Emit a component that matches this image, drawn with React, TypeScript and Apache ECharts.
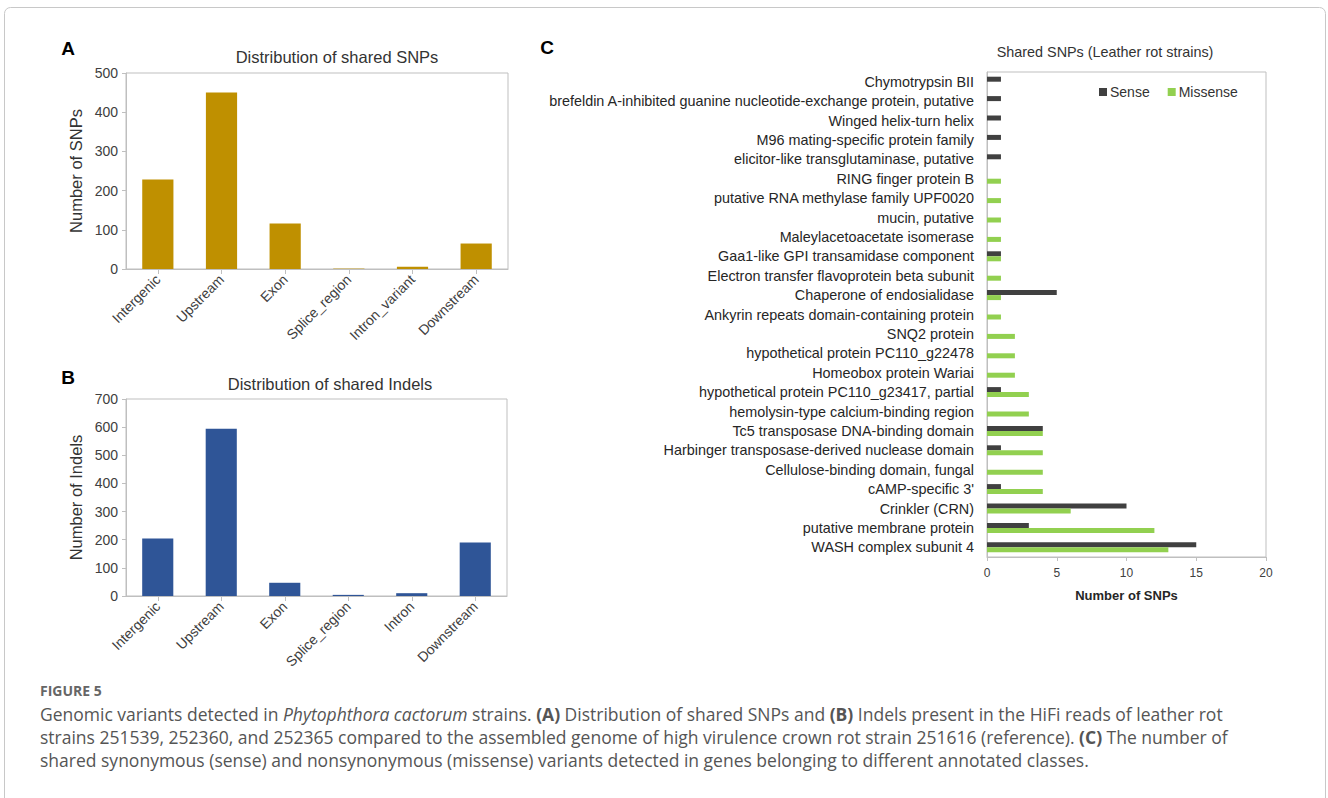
import React, { useEffect, useRef } from "react";
import * as echarts from "echarts";

const snpCategories = ["Intergenic", "Upstream", "Exon", "Splice_region", "Intron_variant", "Downstream"];
const snpValues = [228, 450, 116, 1, 6, 65];

const indelCategories = ["Intergenic", "Upstream", "Exon", "Splice_region", "Intron", "Downstream"];
const indelValues = [204, 594, 47, 4, 10, 190];

const geneClasses = [
  "Chymotrypsin BII",
  "brefeldin A-inhibited guanine nucleotide-exchange protein, putative",
  "Winged helix-turn helix",
  "M96 mating-specific protein family",
  "elicitor-like transglutaminase, putative",
  "RING finger protein B",
  "putative RNA methylase family UPF0020",
  "mucin, putative",
  "Maleylacetoacetate isomerase",
  "Gaa1-like GPI transamidase component",
  "Electron transfer flavoprotein beta subunit",
  "Chaperone of endosialidase",
  "Ankyrin repeats domain-containing protein",
  "SNQ2 protein",
  "hypothetical protein PC110_g22478",
  "Homeobox protein Wariai",
  "hypothetical protein PC110_g23417, partial",
  "hemolysin-type calcium-binding region",
  "Tc5 transposase DNA-binding domain",
  "Harbinger transposase-derived nuclease domain",
  "Cellulose-binding domain, fungal",
  "cAMP-specific 3'",
  "Crinkler (CRN)",
  "putative membrane protein",
  "WASH complex subunit 4",
];
const senseValues = [1, 1, 1, 1, 1, 0, 0, 0, 0, 1, 0, 5, 0, 0, 0, 0, 1, 0, 4, 1, 0, 1, 10, 3, 15];
const missenseValues = [0, 0, 0, 0, 0, 1, 1, 1, 1, 1, 1, 1, 1, 2, 2, 2, 3, 3, 4, 4, 4, 4, 6, 12, 13];

const snpTicks = { min: 0, max: 500, interval: 100 };
const indelTicks = { min: 0, max: 700, interval: 100 };
const geneTicks = { min: 0, max: 20, interval: 5 };

const FONT = "'Liberation Sans', Arial, sans-serif";
const CAP_FONT = "'Open Sans', Lato, sans-serif";
const AXIS_GRAY = "#BFBFBF";

export default function App() {
  const ref = useRef<HTMLDivElement>(null);

  useEffect(() => {
    if (!ref.current) return;
    const chart = echarts.init(ref.current, undefined, { renderer: "svg" });

    const valueAxisCommon = {
      type: "value",
      axisLine: { show: true, lineStyle: { color: AXIS_GRAY } },
      axisTick: { show: true, length: 4, lineStyle: { color: AXIS_GRAY } },
      splitLine: { show: false },
    };

    const capN = { fontFamily: CAP_FONT, fontSize: 17.5, fill: "#555555" };
    const capI = { ...capN, fontStyle: "italic" };
    const capB = { ...capN, fontWeight: "bold" };

    const catLabel = { rotate: 45, fontSize: 14, color: "#404040", fontFamily: FONT, margin: 8, interval: 0 };

    const option: any = {
      animation: false,
      backgroundColor: "#ffffff",
      textStyle: { fontFamily: FONT },
      grid: [
        { left: 126, top: 73, width: 382, height: 196, show: true, borderColor: AXIS_GRAY, borderWidth: 1, backgroundColor: "transparent" },
        { left: 126, top: 399, width: 381, height: 197, show: true, borderColor: AXIS_GRAY, borderWidth: 1, backgroundColor: "transparent" },
        { left: 987, top: 72, width: 279, height: 485, show: true, borderColor: AXIS_GRAY, borderWidth: 1, backgroundColor: "transparent" },
      ],
      legend: {
        left: 1094,
        top: 80,
        icon: "rect",
        itemWidth: 8,
        itemHeight: 8,
        itemGap: 18,
        textStyle: { fontFamily: FONT, fontSize: 14, color: "#333333", padding: [0, 0, 0, -2] },
        data: ["Sense", "Missense"],
      },
      xAxis: [
        {
          type: "category",
          gridIndex: 0,
          data: snpCategories,
          axisLine: { show: true, lineStyle: { color: AXIS_GRAY } },
          axisTick: { show: true, alignWithLabel: true, length: 5, lineStyle: { color: AXIS_GRAY } },
          axisLabel: catLabel,
        },
        {
          type: "category",
          gridIndex: 1,
          data: indelCategories,
          axisLine: { show: true, lineStyle: { color: AXIS_GRAY } },
          axisTick: { show: true, alignWithLabel: true, length: 5, lineStyle: { color: AXIS_GRAY } },
          axisLabel: catLabel,
        },
        {
          ...valueAxisCommon,
          gridIndex: 2,
          ...geneTicks,
          axisLabel: { fontSize: 12, color: "#404040", fontFamily: FONT, margin: 10 },
          name: "Number of SNPs",
          nameLocation: "middle",
          nameGap: 32,
          nameTextStyle: { fontSize: 13, fontWeight: "bold", color: "#262626", fontFamily: FONT },
        },
      ],
      yAxis: [
        {
          ...valueAxisCommon,
          gridIndex: 0,
          ...snpTicks,
          axisLabel: { fontSize: 14, color: "#404040", fontFamily: FONT, margin: 8 },
          name: "Number of SNPs",
          nameLocation: "middle",
          nameGap: 42,
          nameTextStyle: { fontSize: 16.5, color: "#333333", fontFamily: FONT },
        },
        {
          ...valueAxisCommon,
          gridIndex: 1,
          ...indelTicks,
          axisLabel: { fontSize: 14, color: "#404040", fontFamily: FONT, margin: 8 },
          name: "Number of Indels",
          nameLocation: "middle",
          nameGap: 42,
          nameTextStyle: { fontSize: 16.5, color: "#333333", fontFamily: FONT },
        },
        {
          type: "category",
          gridIndex: 2,
          inverse: true,
          data: geneClasses,
          axisLine: { show: true, lineStyle: { color: AXIS_GRAY } },
          axisTick: { show: false },
          axisLabel: { fontSize: 14.4, color: "#262626", fontFamily: FONT, margin: 13, interval: 0 },
        },
      ],
      series: [
        {
          type: "bar",
          xAxisIndex: 0,
          yAxisIndex: 0,
          data: snpValues,
          barWidth: "49%",
          itemStyle: { color: "#BF9000" },
        },
        {
          type: "bar",
          xAxisIndex: 1,
          yAxisIndex: 1,
          data: indelValues,
          barWidth: "49%",
          itemStyle: { color: "#2F5597" },
        },
        {
          name: "Sense",
          type: "bar",
          xAxisIndex: 2,
          yAxisIndex: 2,
          data: senseValues,
          barWidth: 5,
          barGap: "0%",
          itemStyle: { color: "#404040" },
        },
        {
          name: "Missense",
          type: "bar",
          xAxisIndex: 2,
          yAxisIndex: 2,
          data: missenseValues,
          barWidth: 5,
          barGap: "0%",
          itemStyle: { color: "#92D050" },
        },
      ],
      graphic: [
        {
          type: "rect",
          shape: { x: 4.5, y: 7.5, width: 1321, height: 900, r: 6 },
          style: { fill: "none", stroke: "#C8C8C8", lineWidth: 1 },
          silent: true,
        },
        { type: "text", x: 68, y: 48, style: { text: "A", font: `bold 19px ${FONT}`, fill: "#000", align: "center", verticalAlign: "middle" } },
        { type: "text", x: 68, y: 377, style: { text: "B", font: `bold 19px ${FONT}`, fill: "#000", align: "center", verticalAlign: "middle" } },
        { type: "text", x: 547, y: 47, style: { text: "C", font: `bold 19px ${FONT}`, fill: "#000", align: "center", verticalAlign: "middle" } },
        { type: "text", x: 337, y: 57, style: { text: "Distribution of shared SNPs", font: `16.5px ${FONT}`, fill: "#333333", align: "center", verticalAlign: "middle" } },
        { type: "text", x: 330, y: 384, style: { text: "Distribution of shared Indels", font: `16.5px ${FONT}`, fill: "#333333", align: "center", verticalAlign: "middle" } },
        { type: "text", x: 1105, y: 52, style: { text: "Shared SNPs (Leather rot strains)", font: `14.4px ${FONT}`, fill: "#333333", align: "center", verticalAlign: "middle" } },
        { type: "text", x: 40, y: 690, style: { text: "FIGURE 5", font: `bold 14px ${CAP_FONT}`, fill: "#666666", align: "left", verticalAlign: "middle" } },
        {
          type: "text",
          x: 40,
          y: 714,
          style: {
            text: "{n|Genomic variants detected in }{i|Phytophthora cactorum}{n| strains. }{b|(A)}{n| Distribution of shared SNPs and }{b|(B)}{n| Indels present in the HiFi reads of leather rot}",
            rich: { n: capN, i: capI, b: capB },
            align: "left",
            verticalAlign: "middle",
          },
        },
        {
          type: "text",
          x: 40,
          y: 737,
          style: {
            text: "{n|strains 251539, 252360, and 252365 compared to the assembled genome of high virulence crown rot strain 251616 (reference). }{b|(C)}{n| The number of}",
            rich: { n: capN, i: capI, b: capB },
            align: "left",
            verticalAlign: "middle",
          },
        },
        {
          type: "text",
          x: 40,
          y: 760,
          style: {
            text: "{n|shared synonymous (sense) and nonsynonymous (missense) variants detected in genes belonging to different annotated classes.}",
            rich: { n: capN, i: capI, b: capB },
            align: "left",
            verticalAlign: "middle",
          },
        },
      ],
    };

    chart.setOption(option);
    return () => {
      chart.dispose();
    };
  }, []);

  return (
    <div
      ref={ref}
      style={{ position: "fixed", left: 0, top: 0, width: 1328, height: 798, background: "#fff" }}
    />
  );
}
